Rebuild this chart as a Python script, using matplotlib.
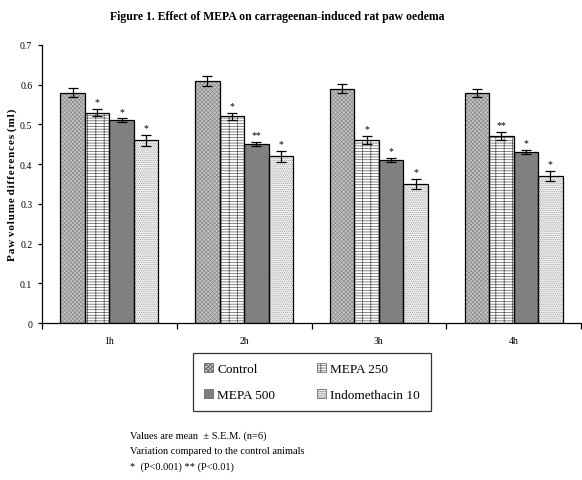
import matplotlib
matplotlib.use("Agg")
import matplotlib.pyplot as plt
import numpy as np
from matplotlib.patches import Rectangle

plt.rcParams['font.family'] = ['Liberation Serif', 'DejaVu Serif']
plt.rcParams['hatch.linewidth'] = 0.5

categories = ['1h', '2h', '3h', '4h']
series = ['Control', 'MEPA 250', 'MEPA 500', 'Indomethacin 10']
control = [0.58, 0.61, 0.59, 0.58]
mepa250 = [0.53, 0.52, 0.46, 0.47]
mepa500 = [0.51, 0.45, 0.41, 0.43]
indo10 = [0.46, 0.42, 0.35, 0.37]
control_err = [0.012, 0.012, 0.012, 0.010]
mepa250_err = [0.010, 0.009, 0.010, 0.010]
mepa500_err = [0.005, 0.005, 0.005, 0.005]
indo10_err = [0.014, 0.014, 0.013, 0.012]
control_sig = ['', '', '', '']
mepa250_sig = ['*', '*', '*', '**']
mepa500_sig = ['*', '**', '*', '*']
indo10_sig = ['*', '*', '*', '*']

values = [control, mepa250, mepa500, indo10]
errors = [control_err, mepa250_err, mepa500_err, indo10_err]
sigs = [control_sig, mepa250_sig, mepa500_sig, indo10_sig]

styles = [
    dict(face='#c4c4c4', hatch='xxxxxxxx', hcol='#8a8a8a'),
    dict(face='white', hatch='------||', hcol='#555555'),
    dict(face='#808080', hatch=None, hcol='#808080'),
    dict(face='#f0f0f0', hatch='........', hcol='#9a9a9a'),
]

fig = plt.figure(figsize=(5.82, 4.81), dpi=100)
ax = fig.add_axes([42/582, 1-324/481, (581-42)/582, (324-46)/481])

x = np.arange(len(categories))
w = 0.182
offsets = (np.arange(4) - 1.5) * w
for i in range(4):
    st = styles[i]
    ax.bar(x + offsets[i], values[i], w, color=st['face'], hatch=st['hatch'],
           edgecolor=st['hcol'], linewidth=0, zorder=2)
    ax.bar(x + offsets[i], values[i], w, fill=False, edgecolor='black',
           linewidth=0.9, zorder=3)
    ax.errorbar(x + offsets[i], values[i], yerr=errors[i], fmt='none',
                ecolor='black', elinewidth=0.9, capsize=3.5, capthick=0.9, zorder=4)
    for j in range(len(categories)):
        if sigs[i][j]:
            ax.text(x[j] + offsets[i], values[i][j] + errors[i][j] + 0.007, sigs[i][j],
                    ha='center', va='bottom', fontsize=7, zorder=5)

ax.set_xlim(-0.5, len(categories) - 0.5)
ax.set_ylim(0, 0.7)
ax.set_yticks(np.arange(0, 0.71, 0.1))
ax.set_yticklabels(['0', '0.1', '0.2', '0.3', '0.4', '0.5', '0.6', '0.7'])
ax.set_xticks(x)
ax.set_xticklabels(categories)
ax.set_xticks(np.arange(-0.5, len(categories), 1.0), minor=True)
ax.tick_params(axis='x', which='major', length=0, labelsize=7, pad=9)
ax.tick_params(axis='x', which='minor', length=4, width=0.9, direction='out')
ax.tick_params(axis='y', length=3, width=0.9, direction='out', labelsize=7, pad=4)
for s in ['top', 'right']:
    ax.spines[s].set_visible(False)
for s in ['left', 'bottom']:
    ax.spines[s].set_linewidth(0.9)
ylab = 'Paw volume differences (ml)'
ylab_spaced = ' '.join('\u200a'.join(wd) for wd in ylab.split(' '))
ax.set_ylabel(ylab_spaced, fontsize=8, fontweight='bold', labelpad=2)

fig.text(277/582, 1-17/481, 'Figure 1. Effect of MEPA on carrageenan-induced rat paw oedema',
         ha='center', va='center', fontsize=8.5, fontweight='bold')

handles = []
for st in styles:
    handles.append(Rectangle((0, 0), 1, 1, facecolor=st['face'], hatch=st['hatch'],
                             edgecolor='#555555', linewidth=0.5))
order = [0, 2, 1, 3]
leg = fig.legend([handles[k] for k in order], [series[k] for k in order],
                 ncol=2, loc='center', bbox_to_anchor=(312/582, 1-383/481),
                 frameon=True, fancybox=False, edgecolor='black', fontsize=9.5,
                 handlelength=0.7, handleheight=0.7, handletextpad=0.3,
                 columnspacing=3.2, borderpad=0.8, labelspacing=1.0)
leg.get_frame().set_linewidth(0.9)

fig.text(130/582, 1-436/481, 'Values are mean  ± S.E.M. (n=6)', fontsize=7.5, va='center')
fig.text(130/582, 1-452/481, 'Variation compared to the control animals', fontsize=7.5, va='center')
fig.text(130/582, 1-467/481, '*  (P<0.001) ** (P<0.01)', fontsize=7.5, va='center')

fig.savefig('out.png', dpi=100)
